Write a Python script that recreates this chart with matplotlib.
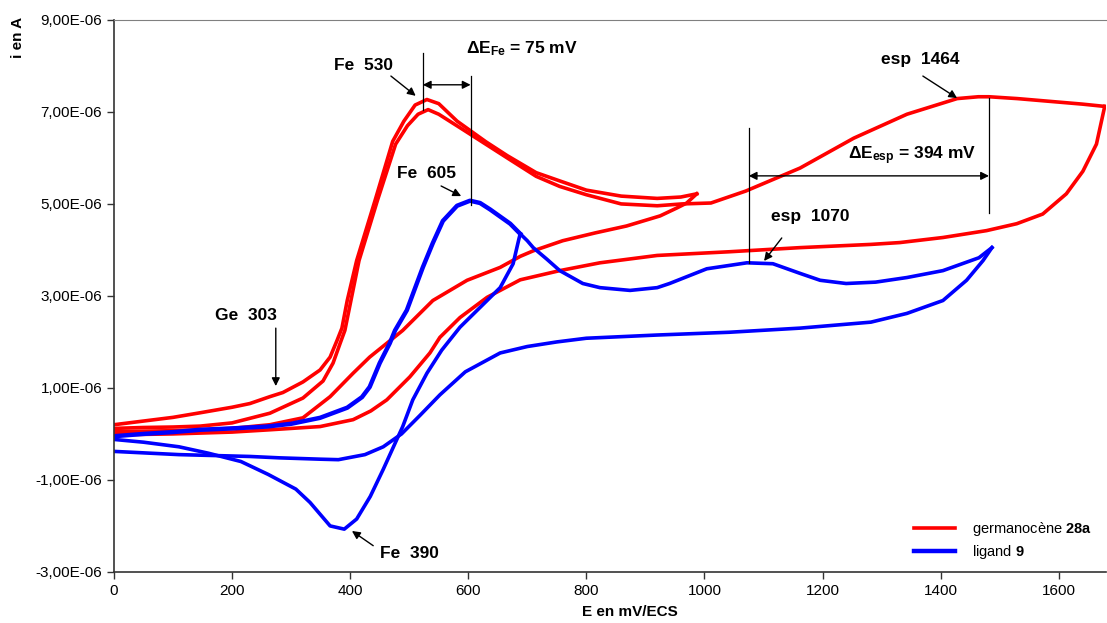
import matplotlib
matplotlib.use("Agg")
import matplotlib.pyplot as plt
import numpy as np
from matplotlib.ticker import FuncFormatter

plt.rcParams['font.family'] = ['Liberation Sans', 'DejaVu Sans']
plt.rcParams['mathtext.fontset'] = 'custom'
plt.rcParams['mathtext.rm'] = 'Liberation Sans'
plt.rcParams['mathtext.bf'] = 'Liberation Sans:bold'
plt.rcParams['mathtext.it'] = 'Liberation Sans:italic'

# --- germanocene 28a (red), potentials in mV, currents in microA ---
red_a_fwd_E = [0, 50, 100, 146, 200, 230, 264, 286, 320, 349, 366, 378, 386, 395, 411, 442,
               472, 491, 510, 530, 550, 581, 630, 666, 715, 755, 800, 859, 920, 960, 987]
red_a_fwd_i = [0.20, 0.28, 0.36, 0.46, 0.58, 0.66, 0.81, 0.90, 1.13, 1.39, 1.67, 2.04, 2.30, 2.90,
               3.77, 5.07, 6.36, 6.80, 7.15, 7.27, 7.18, 6.80, 6.35, 6.05, 5.68, 5.50, 5.30, 5.17,
               5.12, 5.15, 5.22]
red_a_rev_E = [987, 970, 953, 925, 868, 815, 760, 710, 688, 654, 598, 540, 489, 462, 433, 405,
               366, 320, 264, 200, 146, 100, 50, 0]
red_a_rev_i = [5.22, 5.02, 4.91, 4.74, 4.52, 4.37, 4.20, 3.98, 3.86, 3.62, 3.34, 2.90, 2.25, 1.97,
               1.67, 1.32, 0.81, 0.35, 0.20, 0.12, 0.09, 0.07, 0.06, 0.05]
red_b_fwd_E = [0, 50, 100, 146, 200, 264, 320, 354, 371, 383, 391, 415, 446, 477, 497, 515, 532,
               550, 593, 666, 715, 755, 800, 859, 920, 962, 1011, 1070, 1162, 1253, 1343, 1428,
               1464, 1482, 1530, 1585, 1640, 1678]
red_b_fwd_i = [0.12, 0.14, 0.15, 0.17, 0.24, 0.45, 0.78, 1.15, 1.54, 1.97, 2.25, 3.77, 5.07, 6.30,
               6.70, 6.95, 7.05, 6.95, 6.60, 6.00, 5.60, 5.38, 5.20, 5.00, 4.96, 5.00, 5.02, 5.28,
               5.78, 6.43, 6.95, 7.29, 7.33, 7.33, 7.29, 7.23, 7.17, 7.12]
red_b_rev_E = [1678, 1664, 1641, 1613, 1573, 1529, 1478, 1404, 1331, 1282, 1162, 1042, 920, 823,
               755, 688, 632, 586, 552, 535, 501, 462, 435, 405, 349, 264, 200, 100, 0]
red_b_rev_i = [7.12, 6.30, 5.71, 5.22, 4.78, 4.57, 4.42, 4.27, 4.16, 4.12, 4.05, 3.96, 3.88, 3.72,
               3.55, 3.35, 2.97, 2.53, 2.10, 1.76, 1.24, 0.74, 0.50, 0.31, 0.16, 0.09, 0.04, 0.00,
               -0.02]

# --- ligand 9 (blue) ---
blue_fwd_E = [0, 50, 100, 146, 200, 259, 300, 349, 395, 420, 433, 450, 467, 476, 496, 523, 540,
              557, 581, 603, 620, 637, 671, 688]
blue_fwd_i = [-0.05, 0.00, 0.04, 0.09, 0.12, 0.16, 0.22, 0.35, 0.57, 0.80, 1.02, 1.54, 1.97, 2.25,
              2.69, 3.62, 4.15, 4.63, 4.96, 5.07, 5.02, 4.88, 4.57, 4.35]
blue_a_rev_E = [688, 686, 676, 654, 620, 586, 555, 530, 506, 489, 479, 456, 434, 411, 390, 366,
                332, 308, 261, 215, 160, 110, 50, 0]
blue_a_rev_i = [4.35, 4.25, 3.70, 3.18, 2.75, 2.32, 1.82, 1.32, 0.74, 0.16, -0.12, -0.77, -1.36,
                -1.85, -2.07, -2.00, -1.49, -1.20, -0.88, -0.60, -0.42, -0.28, -0.18, -0.12]
blue_b_fwd_E = [688, 700, 710, 733, 755, 794, 823, 874, 920, 941, 1004, 1072, 1116, 1162, 1196,
                1240, 1290, 1343, 1404, 1465, 1487]
blue_b_fwd_i = [4.35, 4.20, 4.05, 3.80, 3.55, 3.27, 3.18, 3.12, 3.18, 3.27, 3.59, 3.72, 3.70, 3.49,
                3.34, 3.27, 3.30, 3.40, 3.55, 3.83, 4.05]
blue_b_rev_E = [1487, 1472, 1444, 1404, 1343, 1282, 1162, 1042, 920, 800, 750, 700, 654, 595,
                552, 518, 487, 456, 425, 380, 351, 280, 230, 110, 0]
blue_b_rev_i = [4.05, 3.77, 3.34, 2.90, 2.62, 2.43, 2.30, 2.21, 2.15, 2.08, 2.00, 1.90, 1.76, 1.35,
                0.85, 0.40, 0.00, -0.28, -0.45, -0.56, -0.55, -0.52, -0.49, -0.45, -0.38]

x_ticks = [0, 200, 400, 600, 800, 1000, 1200, 1400, 1600]
y_ticks = [-3e-6, -1e-6, 1e-6, 3e-6, 5e-6, 7e-6, 9e-6]

RED = '#ff0000'
BLUE = '#0000ff'

fig = plt.figure(figsize=(11.07, 6.23), dpi=100)
ax = fig.add_axes([0.103, 0.082, 0.896, 0.886])


def A(vals):
    return np.array(vals) * 1e-6


lw = 2.6
ax.plot(red_a_fwd_E, A(red_a_fwd_i), color=RED, lw=lw, label='germanocène $\\mathbf{28a}$')
ax.plot(red_a_rev_E, A(red_a_rev_i), color=RED, lw=lw)
ax.plot(red_b_fwd_E, A(red_b_fwd_i), color=RED, lw=lw)
ax.plot(red_b_rev_E, A(red_b_rev_i), color=RED, lw=lw)
ax.plot(blue_fwd_E, A(blue_fwd_i), color=BLUE, lw=3.2, label='ligand $\\mathbf{9}$')
ax.plot(blue_a_rev_E, A(blue_a_rev_i), color=BLUE, lw=lw)
ax.plot(blue_b_fwd_E, A(blue_b_fwd_i), color=BLUE, lw=lw)
ax.plot(blue_b_rev_E, A(blue_b_rev_i), color=BLUE, lw=lw)

ax.set_xlim(0, 1680)
ax.set_ylim(-3e-6, 9e-6)
ax.set_xticks(x_ticks)
ax.set_yticks(y_ticks)
ax.yaxis.set_major_formatter(FuncFormatter(lambda v, p: f"{v:.2E}".replace('.', ',')))
ax.tick_params(labelsize=11, direction='out', length=5, width=1, color='#333333')
ax.spines['right'].set_visible(False)
ax.spines['top'].set_color('#808080')
for s in ('left', 'bottom'):
    ax.spines[s].set_color('#333333')
    ax.spines[s].set_linewidth(1.2)

ax.set_xlabel('E en mV/ECS', fontsize=11, fontweight='bold')
ax.xaxis.set_label_coords(0.52, -0.06)
fig.text(0.016, 0.94, 'i en A', rotation=90, fontsize=11, fontweight='bold',
         ha='center', va='center')

# annotations
fs = 12.5
arrow = dict(arrowstyle='-|>', color='black', lw=1, mutation_scale=12, shrinkA=0, shrinkB=0)
darrow = dict(arrowstyle='<|-|>', color='black', lw=1, mutation_scale=12, shrinkA=0, shrinkB=0)


def label(txt, xy, xytext, **kw):
    ax.annotate(txt, xy=(xy[0], xy[1] * 1e-6), xytext=(xytext[0], xytext[1] * 1e-6),
                fontsize=fs, fontweight='bold', ha='center', va='center',
                arrowprops=arrow, **kw)


ax.text(423, 8.0e-6, 'Fe  530', fontsize=fs, fontweight='bold', ha='center', va='center')
ax.annotate('', xy=(511, 7.35e-6), xytext=(469, 7.78e-6), arrowprops=arrow)
ax.text(530, 5.67e-6, 'Fe  605', fontsize=fs, fontweight='bold', ha='center', va='center')
ax.annotate('', xy=(588, 5.17e-6), xytext=(554, 5.39e-6), arrowprops=arrow)
ax.text(224, 2.57e-6, 'Ge  303', fontsize=fs, fontweight='bold', ha='center', va='center')
ax.annotate('', xy=(274, 1.04e-6), xytext=(274, 2.30e-6), arrowprops=arrow)
ax.text(500, -2.59e-6, 'Fe  390', fontsize=fs, fontweight='bold', ha='center', va='center')
ax.annotate('', xy=(403, -2.11e-6), xytext=(439, -2.43e-6), arrowprops=arrow)
ax.text(1180, 4.72e-6, 'esp  1070', fontsize=fs, fontweight='bold', ha='center', va='center')
ax.annotate('', xy=(1101, 3.76e-6), xytext=(1131, 4.26e-6), arrowprops=arrow)
ax.text(1365, 8.15e-6, 'esp  1464', fontsize=fs, fontweight='bold', ha='center', va='center')
ax.annotate('', xy=(1428, 7.30e-6), xytext=(1370, 7.78e-6), arrowprops=arrow)

# delta E markers
ax.plot([523, 523], [7.05e-6, 8.28e-6], color='black', lw=0.9)
ax.plot([604, 604], [4.98e-6, 7.78e-6], color='black', lw=0.9)
ax.annotate('', xy=(604, 7.59e-6), xytext=(523, 7.59e-6), arrowprops=darrow)
ax.text(596, 8.37e-6, r'$\mathbf{\Delta E_{Fe}}$' + ' = 75 mV', fontsize=fs, fontweight='bold',
        ha='left', va='center')

ax.plot([1075, 1075], [3.72e-6, 6.65e-6], color='black', lw=0.9)
ax.plot([1482, 1482], [4.80e-6, 7.30e-6], color='black', lw=0.9)
ax.annotate('', xy=(1482, 5.61e-6), xytext=(1075, 5.61e-6), arrowprops=darrow)
ax.text(1243, 6.04e-6, r'$\mathbf{\Delta E_{esp}}$' + ' = 394 mV', fontsize=fs, fontweight='bold',
        ha='left', va='center')

ax.legend(loc='lower right', frameon=False, fontsize=10.5, handlelength=2.75,
          handletextpad=1.2, labelspacing=0.35, borderpad=0, borderaxespad=0,
          bbox_to_anchor=(1092 / 1107, 1 - 561 / 623), bbox_transform=fig.transFigure)

fig.savefig('out.png', dpi=100)
